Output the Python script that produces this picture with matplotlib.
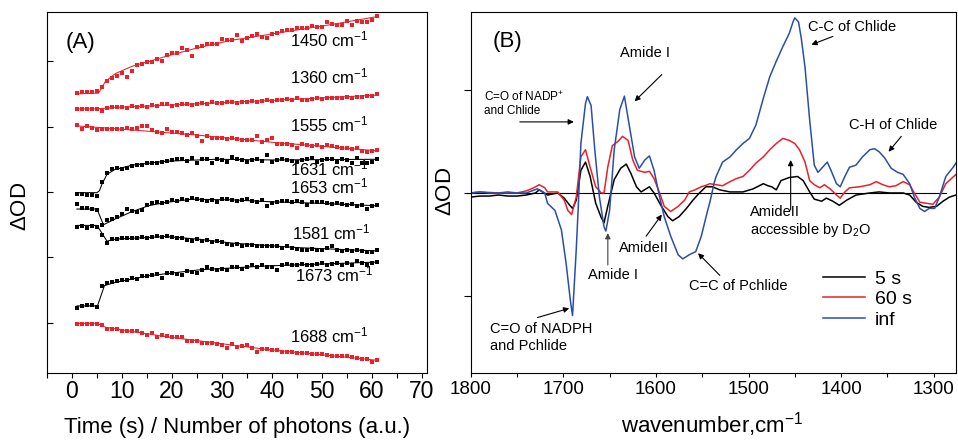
import numpy as np
import matplotlib
matplotlib.use('Agg')
import matplotlib.pyplot as plt
from matplotlib.ticker import MultipleLocator, FixedLocator

plt.rcParams['font.family'] = ['Liberation Sans', 'DejaVu Sans']
plt.rcParams['mathtext.fontset'] = 'custom'
plt.rcParams['mathtext.rm'] = 'Liberation Sans'
plt.rcParams['mathtext.it'] = 'Liberation Sans:italic'
plt.rcParams['mathtext.bf'] = 'Liberation Sans:bold'
plt.rcParams['mathtext.default'] = 'regular'

# ---------------- Panel A data (time traces) ----------------
t = np.arange(1, 62)

s1450 = [4.51, 4.53, 4.53, 4.53, 4.54, 4.61, 4.69, 4.74, 4.77, 4.82,
         4.76, 4.85, 4.94, 4.96, 4.99, 4.99, 5.03, 5.00, 5.09, 5.13,
         5.13, 5.20, 5.17, 5.08, 5.22, 5.23, 5.26, 5.26, 5.26, 5.34,
         5.32, 5.32, 5.40, 5.30, 5.36, 5.38, 5.41, 5.37, 5.36, 5.42,
         5.43, 5.46, 5.48, 5.48, 5.50, 5.51, 5.51, 5.53, 5.52, 5.52,
         5.60, 5.56, 5.55, 5.55, 5.62, 5.55, 5.61, 5.59, 5.60, 5.63, 5.69]
s1360 = [4.27, 4.27, 4.27, 4.27, 4.27, 4.24, 4.28, 4.30, 4.30, 4.30,
         4.29, 4.31, 4.30, 4.32, 4.30, 4.33, 4.32, 4.35, 4.34, 4.32,
         4.33, 4.34, 4.35, 4.33, 4.35, 4.36, 4.34, 4.37, 4.36, 4.36,
         4.37, 4.37, 4.36, 4.38, 4.38, 4.39, 4.38, 4.39, 4.40, 4.39,
         4.41, 4.40, 4.42, 4.41, 4.43, 4.41, 4.40, 4.42, 4.43, 4.42,
         4.43, 4.44, 4.43, 4.44, 4.45, 4.44, 4.45, 4.45, 4.46, 4.46, 4.49]
s1555 = [4.02, 3.97, 4.01, 3.98, 3.95, 3.97, 3.96, 3.96, 3.97, 3.97,
         3.98, 3.97, 3.98, 4.01, 4.01, 3.95, 3.92, 3.90, 3.96, 3.92,
         3.91, 3.90, 3.87, 3.90, 3.85, 3.78, 3.85, 3.83, 3.82, 3.83,
         3.81, 3.82, 3.81, 3.79, 3.79, 3.80, 3.86, 3.77, 3.79, 3.83,
         3.74, 3.73, 3.74, 3.72, 3.68, 3.73, 3.72, 3.70, 3.72, 3.69,
         3.72, 3.71, 3.69, 3.68, 3.67, 3.65, 3.67, 3.63, 3.61, 3.63, 3.64]
s1631 = [2.97, 2.97, 2.96, 2.96, 2.94, 3.16, 3.29, 3.35, 3.36, 3.35,
         3.36, 3.39, 3.41, 3.42, 3.44, 3.44, 3.45, 3.46, 3.47, 3.49,
         3.50, 3.51, 3.47, 3.52, 3.44, 3.51, 3.51, 3.45, 3.51, 3.49,
         3.46, 3.53, 3.51, 3.49, 3.46, 3.49, 3.50, 3.47, 3.56, 3.46,
         3.49, 3.51, 3.49, 3.47, 3.46, 3.49, 3.51, 3.52, 3.46, 3.49,
         3.51, 3.50, 3.46, 3.51, 3.49, 3.45, 3.52, 3.45, 3.45, 3.46, 3.51]
s1653 = [2.81, 2.75, 2.75, 2.74, 2.73, 2.50, 2.57, 2.59, 2.62, 2.66,
         2.74, 2.71, 2.69, 2.73, 2.80, 2.83, 2.84, 2.83, 2.85, 2.88,
         2.86, 2.89, 2.88, 2.91, 2.89, 2.88, 2.86, 2.88, 2.85, 2.89,
         2.90, 2.88, 2.86, 2.88, 2.89, 2.86, 2.85, 2.88, 2.78, 2.83,
         2.85, 2.86, 2.86, 2.85, 2.86, 2.84, 2.80, 2.84, 2.85, 2.84,
         2.83, 2.81, 2.83, 2.81, 2.80, 2.81, 2.79, 2.80, 2.74, 2.79, 2.80]
s1581 = [2.47, 2.48, 2.45, 2.48, 2.46, 2.35, 2.22, 2.28, 2.28, 2.29,
         2.30, 2.29, 2.30, 2.32, 2.30, 2.32, 2.33, 2.32, 2.33, 2.32,
         2.29, 2.30, 2.27, 2.25, 2.28, 2.25, 2.27, 2.24, 2.25, 2.24,
         2.20, 2.19, 2.20, 2.18, 2.19, 2.19, 2.18, 2.17, 2.18, 2.17,
         2.18, 2.15, 2.17, 2.14, 2.13, 2.11, 2.12, 2.13, 2.11, 2.12,
         2.14, 2.18, 2.11, 2.10, 2.11, 2.10, 2.11, 2.10, 2.08, 2.09, 2.11]
s1673 = [1.23, 1.26, 1.28, 1.28, 1.25, 1.56, 1.61, 1.63, 1.64, 1.66,
         1.66, 1.68, 1.67, 1.71, 1.72, 1.73, 1.74, 1.69, 1.76, 1.77,
         1.74, 1.73, 1.79, 1.78, 1.76, 1.81, 1.85, 1.82, 1.81, 1.82,
         1.81, 1.86, 1.85, 1.83, 1.86, 1.89, 1.86, 1.88, 1.86, 1.85,
         1.81, 1.89, 1.90, 1.89, 1.88, 1.90, 1.89, 1.88, 1.90, 1.91,
         1.89, 1.90, 1.91, 1.89, 1.92, 1.89, 1.94, 1.91, 1.89, 1.92, 1.93]
s1688 = [0.99, 0.99, 0.99, 0.99, 0.98, 0.97, 0.90, 0.90, 0.90, 0.88,
         0.87, 0.88, 0.88, 0.84, 0.82, 0.84, 0.78, 0.82, 0.80, 0.79,
         0.79, 0.78, 0.73, 0.72, 0.72, 0.70, 0.70, 0.69, 0.68, 0.66,
         0.62, 0.68, 0.63, 0.64, 0.66, 0.61, 0.56, 0.60, 0.60, 0.59,
         0.58, 0.56, 0.56, 0.55, 0.54, 0.54, 0.54, 0.53, 0.53, 0.52,
         0.51, 0.50, 0.49, 0.49, 0.49, 0.48, 0.46, 0.45, 0.45, 0.40, 0.44]

# fitted curves (read at knots)
fit1450_t = [1, 5.3, 6, 6.7, 8.7, 12, 18.7, 25, 32, 38, 45.3, 52, 61]
fit1450_v = [4.50, 4.51, 4.60, 4.69, 4.81, 4.92, 5.07, 5.20, 5.32, 5.39, 5.48, 5.56, 5.68]
fit1360_t = [1, 5, 8, 20, 40, 61]
fit1360_v = [4.27, 4.27, 4.29, 4.33, 4.40, 4.48]
fit1555_t = [1, 10, 25, 40, 61]
fit1555_v = [4.01, 3.96, 3.87, 3.76, 3.63]
fit1631_t = [1, 5, 5.5, 6, 7, 8.5, 12, 18.7, 28.7, 40, 61]
fit1631_v = [2.99, 2.99, 3.02, 3.12, 3.27, 3.34, 3.41, 3.47, 3.50, 3.49, 3.50]
fit1653_t = [1, 5, 6.3, 8.7, 12, 15.3, 18.7, 24, 32, 40, 48.7, 61]
fit1653_v = [2.74, 2.74, 2.50, 2.59, 2.70, 2.79, 2.84, 2.89, 2.88, 2.85, 2.83, 2.79]
fit1581_t = [1, 5, 5.5, 7, 8.7, 18.7, 25.3, 32, 45.3, 61]
fit1581_v = [2.49, 2.49, 2.43, 2.25, 2.28, 2.32, 2.28, 2.22, 2.15, 2.10]
fit1673_t = [1, 5.1, 6.5, 8.7, 15.3, 25.3, 38.7, 61]
fit1673_v = [1.26, 1.26, 1.57, 1.62, 1.72, 1.81, 1.87, 1.93]
fit1688_t = [1, 5, 6.7, 18.7, 38.7, 61]
fit1688_v = [0.995, 0.995, 0.934, 0.791, 0.598, 0.43]

wavelabels_A = ['1450', '1360', '1555', '1631', '1653', '1581', '1673', '1688']

# ---------------- Panel B data (difference spectra) ----------------
wn_inf = [1800, 1790, 1780, 1770, 1760, 1750, 1740, 1728, 1720, 1717, 1709, 1702,
          1697, 1692, 1690, 1686, 1684, 1681, 1676, 1674, 1670, 1666, 1661, 1656,
          1654, 1650, 1645, 1639, 1634, 1629, 1623, 1618, 1612, 1607, 1602, 1596,
          1591, 1584, 1576, 1571, 1564, 1557, 1551, 1544, 1542, 1537, 1535, 1528,
          1520, 1513, 1506, 1499, 1492, 1484, 1477, 1470, 1463, 1456, 1452, 1450,
          1446, 1443, 1439, 1434, 1429, 1425, 1420, 1415, 1411, 1405, 1401, 1396,
          1391, 1384, 1377, 1369, 1364, 1359, 1353, 1346, 1339, 1333, 1326, 1321,
          1315, 1310, 1305, 1299, 1294, 1287, 1279, 1276]
od_inf = [0.00, 0.01, 0.00, 0.00, 0.01, 0.00, 0.00, 0.04, 0.00, -0.10, -0.17, -0.36,
          -0.68, -1.07, -1.19, -0.55, -0.17, 0.48, 0.87, 0.935, 0.85, 0.42, -0.04, -0.33,
          -0.37, -0.17, 0.42, 0.81, 0.94, 0.67, 0.35, 0.24, 0.32, 0.36, 0.22, -0.04,
          -0.23, -0.42, -0.60, -0.64, -0.60, -0.57, -0.42, -0.165, -0.10, 0.10, 0.16, 0.30,
          0.35, 0.42, 0.48, 0.53, 0.66, 0.92, 1.13, 1.28, 1.42, 1.55, 1.66, 1.70,
          1.66, 1.50, 1.22, 0.71, 0.27, 0.20, 0.25, 0.30, 0.22, 0.09, 0.06, 0.16,
          0.25, 0.27, 0.35, 0.42, 0.43, 0.40, 0.34, 0.24, 0.20, 0.18, 0.09, -0.04,
          -0.15, -0.18, -0.15, -0.15, -0.04, 0.16, 0.25, 0.29]

wn_60 = [1800, 1790, 1770, 1750, 1740, 1732, 1726, 1720, 1717, 1706, 1699, 1695,
         1691, 1686, 1681, 1676, 1671, 1665, 1659, 1656, 1652, 1647, 1641, 1636,
         1630, 1625, 1620, 1612, 1607, 1602, 1596, 1591, 1584, 1576, 1569, 1564,
         1558, 1551, 1544, 1542, 1528, 1520, 1513, 1506, 1499, 1492, 1484, 1477,
         1470, 1463, 1456, 1450, 1445, 1439, 1434, 1429, 1423, 1418, 1412, 1405,
         1401, 1396, 1391, 1380, 1369, 1362, 1355, 1348, 1341, 1333, 1326, 1321,
         1315, 1308, 1301, 1294, 1287, 1276]
od_60 = [0.00, 0.01, 0.00, 0.00, 0.02, 0.05, 0.08, 0.05, 0.01, 0.01, -0.07, -0.17,
         -0.21, -0.04, 0.35, 0.42, 0.25, 0.06, 0.00, 0.00, 0.25, 0.46, 0.50, 0.55,
         0.51, 0.32, 0.22, 0.20, 0.21, 0.14, 0.00, -0.13, -0.18, -0.13, -0.07, 0.01,
         0.03, 0.06, 0.08, 0.09, 0.07, 0.11, 0.14, 0.16, 0.22, 0.29, 0.35, 0.42,
         0.48, 0.53, 0.51, 0.48, 0.42, 0.30, 0.12, 0.08, 0.05, 0.08, 0.04, -0.02,
         -0.05, 0.01, 0.05, 0.06, 0.08, 0.11, 0.08, 0.06, 0.07, 0.11, 0.08, 0.00,
         -0.09, -0.10, -0.11, -0.04, 0.09, 0.18]

wn_5 = [1800, 1790, 1780, 1770, 1760, 1750, 1740, 1730, 1726, 1717, 1706, 1699,
        1693, 1690, 1686, 1681, 1676, 1671, 1665, 1659, 1656, 1652, 1645, 1638,
        1632, 1627, 1621, 1616, 1607, 1602, 1594, 1587, 1582, 1575, 1567, 1560,
        1553, 1546, 1539, 1531, 1520, 1506, 1495, 1484, 1479, 1475, 1470, 1465,
        1456, 1447, 1441, 1434, 1429, 1421, 1416, 1409, 1402, 1394, 1384, 1369,
        1359, 1348, 1333, 1326, 1319, 1312, 1305, 1297, 1290, 1283, 1276]
od_5 = [-0.04, -0.03, -0.03, -0.02, -0.03, -0.03, -0.02, 0.00, 0.03, -0.02, 0.00, -0.05,
        -0.12, -0.15, -0.07, 0.22, 0.30, 0.16, -0.10, -0.24, -0.29, -0.13, 0.13, 0.24,
        0.28, 0.19, 0.06, 0.01, 0.06, 0.00, -0.13, -0.23, -0.27, -0.23, -0.15, -0.07,
        0.00, 0.06, 0.06, 0.03, 0.01, 0.01, 0.04, 0.09, 0.07, 0.06, 0.03, 0.12,
        0.15, 0.16, 0.12, 0.01, -0.06, -0.08, -0.05, -0.08, -0.12, -0.07, -0.02, 0.00,
        0.01, 0.00, 0.00, -0.02, -0.09, -0.13, -0.14, -0.13, -0.08, -0.04, -0.02]

legend_labels = ['5 s', '60 s', 'inf']

RED = '#e8212a'
BLUE = '#2b4fa6'
BLACK = '#000000'

fig = plt.figure(figsize=(9.58, 4.4), dpi=100)
axA = fig.add_axes([0.049, 0.153, 0.3967, 0.8197])
axB = fig.add_axes([0.4913, 0.153, 0.5066, 0.8197])

# ---------------- Panel A ----------------
seriesA = [
    (s1450, fit1450_t, fit1450_v, RED),
    (s1360, fit1360_t, fit1360_v, RED),
    (s1555, fit1555_t, fit1555_v, RED),
    (s1631, fit1631_t, fit1631_v, BLACK),
    (s1653, fit1653_t, fit1653_v, BLACK),
    (s1581, fit1581_t, fit1581_v, BLACK),
    (s1673, fit1673_t, fit1673_v, BLACK),
    (s1688, fit1688_t, fit1688_v, RED),
]
for vals, ft, fv, c in seriesA:
    axA.plot(ft, fv, '-', lw=0.75, color=c, zorder=2)
    axA.plot(t, vals, ls='none', marker='s', ms=2.5, mew=0, color=c, zorder=3)

label_pos = [(43.7, 5.218), (43.7, 4.66), (43.7, 3.92), (43.7, 3.26),
             (43.7, 2.98), (44.0, 2.28), (44.7, 1.63), (43.7, 0.70)]
for lab, (lx, ly) in zip(wavelabels_A, label_pos):
    axA.text(lx, ly, lab + r' cm$^{-1}$', fontsize=12, ha='left', va='baseline', zorder=1)

axA.text(-1.3, 5.28, '(A)', fontsize=16, ha='left', va='center')

axA.set_xlim(-5, 71)
axA.set_ylim(0.24, 5.75)
axA.set_xticks([0, 10, 20, 30, 40, 50, 60, 70])
axA.xaxis.set_minor_locator(MultipleLocator(5))
axA.yaxis.set_major_locator(FixedLocator([1, 2, 3, 4, 5]))
axA.tick_params(axis='x', which='both', direction='out', length=3.5, width=0.8,
                labelsize=16.5, pad=2)
axA.tick_params(axis='y', which='both', direction='in', length=4.5, width=0.8,
                labelleft=False)
axA.set_xlabel('Time (s) / Number of photons (a.u.)', fontsize=16)
axA.xaxis.set_label_coords(0.501, -0.122)
axA.xaxis.label.set_va('top')
axA.set_ylabel(r'$\Delta$OD', fontsize=16)
axA.yaxis.set_label_coords(-0.042, 0.462)
for sp in axA.spines.values():
    sp.set_linewidth(0.8)

# ---------------- Panel B ----------------
l5, = axB.plot(wn_5, od_5, color=BLACK, lw=1.1, label=legend_labels[0])
l60, = axB.plot(wn_60, od_60, color=RED, lw=1.1, label=legend_labels[1])
linf, = axB.plot(wn_inf, od_inf, color=BLUE, lw=1.1, label=legend_labels[2])
axB.axhline(0, xmin=0, xmax=0.98, color='k', lw=0.8, zorder=1)

axB.set_xlim(1800, 1276)
axB.set_ylim(-1.745, 1.757)
axB.set_xticks([1800, 1700, 1600, 1500, 1400, 1300])
axB.xaxis.set_minor_locator(MultipleLocator(50))
axB.set_yticks([-1, 0, 1])
axB.tick_params(axis='x', which='both', direction='out', length=3, width=0.8,
                labelsize=13.5, pad=3)
axB.tick_params(axis='y', which='both', direction='out', length=5, width=0.8,
                labelleft=False)
axB.set_xlabel(r'wavenumber,cm$^{-1}$', fontsize=16)
axB.xaxis.set_label_coords(0.497, -0.105)
axB.xaxis.label.set_va('top')
axB.set_ylabel(r'$\Delta$OD', fontsize=16)
axB.yaxis.set_label_coords(-0.030, 0.504)
for sp in axB.spines.values():
    sp.set_linewidth(0.8)

axB.text(1776, 1.47, '(B)', fontsize=16, ha='left', va='center')

ann = dict(arrowstyle='-|>', color='k', lw=0.8, mutation_scale=8, shrinkA=0, shrinkB=0)
fs = 10.5

def arrow(tail, head, color='k'):
    p = dict(ann)
    p['color'] = color
    axB.annotate('', xy=head, xytext=tail, arrowprops=p)

axB.text(1612, 1.36, 'Amide I', fontsize=fs, ha='center', va='center')
arrow((1593.6, 1.15), (1623, 0.89))

axB.text(1785.7, 0.87, 'C=O of NADP$^{+}$\nand Chlide', fontsize=8.5, ha='left',
         va='center', linespacing=1.15)
arrow((1747, 0.69), (1688.6, 0.69))

axB.text(1646.5, -0.80, 'Amide I', fontsize=fs, ha='center', va='center')
arrow((1651.9, -0.70), (1651.9, -0.39), color='#444444')

axB.text(1613, -0.53, 'AmideII', fontsize=fs, ha='center', va='center')
arrow((1610.6, -0.42), (1593.6, -0.21))

axB.text(1511, -0.90, 'C=C of Pchlide', fontsize=fs, ha='center', va='center')
arrow((1531, -0.80), (1554.5, -0.585))

axB.text(1779.2, -1.40, 'C=O of NADPH\nand Pchlide', fontsize=fs, ha='left',
         va='center', linespacing=1.25)
arrow((1728, -1.21), (1693.6, -1.12))

axB.text(1498, -0.28, 'AmideII\naccessible by D$_{2}$O', fontsize=fs, ha='left',
         va='center', linespacing=1.15)
arrow((1454.5, -0.165), (1454.5, 0.32))

axB.text(1435.8, 1.61, 'C-C of Chlide', fontsize=fs, ha='left', va='center')
arrow((1408.9, 1.52), (1432.1, 1.44))

axB.text(1343.4, 0.66, 'C-H of Chlide', fontsize=fs, ha='center', va='center')
arrow((1335, 0.55), (1348.8, 0.40))

axB.legend(handles=[l5, l60, linf], loc='upper left', bbox_to_anchor=(0.726, 0.285),
           frameon=False, fontsize=14, handlelength=2.15, handletextpad=0.5,
           labelspacing=0.15, borderpad=0, borderaxespad=0)

fig.savefig('out.png', dpi=100)
